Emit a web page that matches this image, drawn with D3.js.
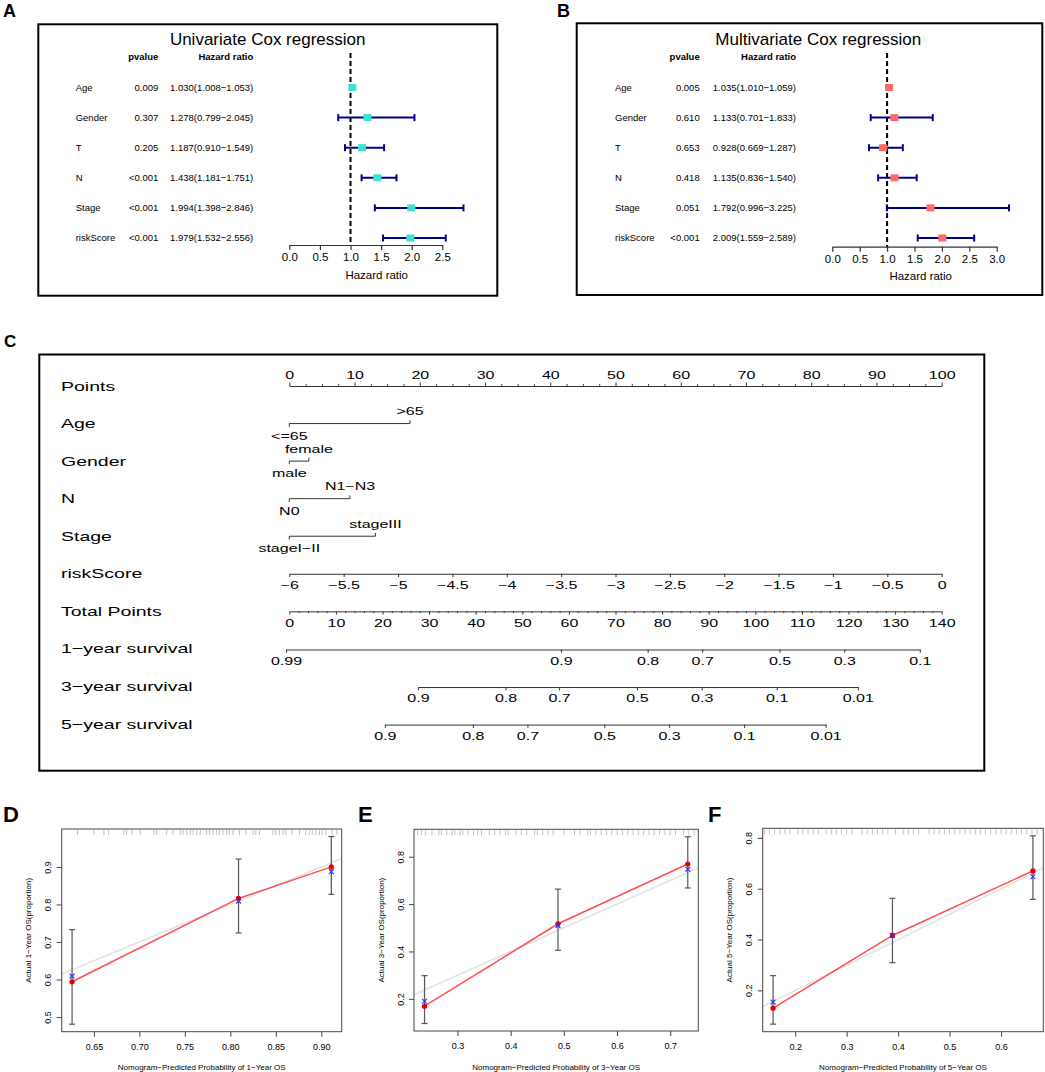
<!DOCTYPE html>
<html><head><meta charset="utf-8">
<script src="https://cdn.jsdelivr.net/npm/d3@7"></script>
<style>
body{margin:0;background:#fff}
svg{display:block}
text{font-family:"Liberation Sans",Arial,Helvetica,sans-serif;fill:#000}
</style>
</head><body>
<svg id="chart" width="1045" height="1072"></svg>
<script>
// ---------------- DATA ----------------
const vars = ["Age","Gender","T","N","Stage","riskScore"];
const uniP = ["0.009","0.307","0.205","<0.001","<0.001","<0.001"];
const uniHR = [1.030,1.278,1.187,1.438,1.994,1.979];
const uniLow = [1.008,0.799,0.910,1.181,1.398,1.532];
const uniHigh = [1.053,2.045,1.549,1.751,2.846,2.556];
const multiP = ["0.005","0.610","0.653","0.418","0.051","<0.001"];
const multiHR = [1.035,1.133,0.928,1.135,1.792,2.009];
const multiLow = [1.010,0.701,0.669,0.836,0.996,1.559];
const multiHigh = [1.059,1.833,1.287,1.540,3.225,2.589];
const uniTicks = [0,0.5,1,1.5,2,2.5];
const multiTicks = [0,0.5,1,1.5,2,2.5,3];

const nomoRows = ["Points","Age","Gender","N","Stage","riskScore","Total Points","1−year survival","3−year survival","5−year survival"];
const catRows = ["Age","Gender","N","Stage"];
const catLow = ["<=65","male","N0","stageI−II"];
const catHigh = [">65","female","N1−N3","stageIII"];
const catPoints = [18.5,3.0,9.3,13.2];
const riskTicks = [-6,-5.5,-5,-4.5,-4,-3.5,-3,-2.5,-2,-1.5,-1,-0.5,0];
const surv1Labels = ["0.99","0.9","0.8","0.7","0.5","0.3","0.1"];
const surv1Points = [-0.7,58.3,76.9,88.6,105.2,119.1,135.3];
const surv3Labels = ["0.9","0.8","0.7","0.5","0.3","0.1","0.01"];
const surv3Points = [27.6,46.4,57.9,74.6,88.5,104.6,122.0];
const surv5Labels = ["0.9","0.8","0.7","0.5","0.3","0.1","0.01"];
const surv5Points = [20.5,39.4,51.1,67.6,81.5,97.6,115.1];

const cal1Pred = [0.626,0.809,0.911];
const cal1Obs = [0.594,0.816,0.900];
const cal1Corr = [0.609,0.809,0.887];
const cal1Low = [0.481,0.724,0.827];
const cal1High = [0.733,0.921,0.981];
const cal1XTicks = [0.65,0.70,0.75,0.80,0.85,0.90];
const cal1YTicks = [0.5,0.6,0.7,0.8,0.9];
const cal1Rug = [0.632,0.650,0.661,0.666,0.683,0.686,0.692,0.701,0.716,0.719,0.730,0.737,0.745,0.748,0.752,0.756,0.759,0.763,0.767,0.774,0.777,0.781,0.785,0.788,0.792,0.796,0.799,0.803,0.810,0.817,0.825,0.828,0.832,0.847,0.850,0.854,0.858,0.861,0.868,0.876,0.883,0.887,0.890,0.894,0.898,0.901,0.905,0.912,0.917];

const cal3Pred = [0.238,0.489,0.733];
const cal3Obs = [0.169,0.517,0.769];
const cal3Corr = [0.190,0.509,0.747];
const cal3Low = [0.096,0.405,0.668];
const cal3High = [0.298,0.663,0.884];
const cal3XTicks = [0.3,0.4,0.5,0.6,0.7];
const cal3YTicks = [0.2,0.4,0.6,0.8];
const cal3Rug = [0.225,0.232,0.240,0.252,0.265,0.270,0.280,0.290,0.295,0.305,0.310,0.320,0.330,0.338,0.345,0.360,0.370,0.380,0.390,0.395,0.410,0.420,0.430,0.445,0.450,0.460,0.470,0.480,0.500,0.520,0.530,0.545,0.550,0.560,0.570,0.580,0.590,0.600,0.610,0.620,0.630,0.640,0.650,0.660,0.670,0.680,0.690,0.700,0.710,0.725,0.735,0.745];

const cal5Pred = [0.157,0.389,0.662];
const cal5Obs = [0.130,0.416,0.670];
const cal5Corr = [0.154,0.416,0.647];
const cal5Low = [0.067,0.309,0.558];
const cal5High = [0.258,0.562,0.808];
const cal5XTicks = [0.2,0.3,0.4,0.5,0.6];
const cal5YTicks = [0.2,0.4,0.6,0.8];
const cal5Rug = [0.140,0.150,0.160,0.170,0.180,0.190,0.205,0.215,0.225,0.235,0.245,0.260,0.270,0.280,0.290,0.300,0.310,0.330,0.340,0.350,0.360,0.370,0.380,0.395,0.410,0.420,0.430,0.440,0.460,0.470,0.480,0.490,0.500,0.510,0.520,0.530,0.540,0.550,0.560,0.570,0.580,0.590,0.600,0.610,0.620,0.630,0.640,0.650,0.660,0.670];

// ---------------- DRAW ----------------
const svg = d3.select("#chart");
const MINUS = "−";

function panelLabel(t, x, y, size) {
  svg.append("text").attr("x", x).attr("y", y).attr("font-size", size)
    .attr("font-weight", "bold").text(t);
}
panelLabel("A", 3, 17, 18);
panelLabel("B", 557, 17, 18);
panelLabel("C", 4, 347, 17);
panelLabel("D", 3, 822, 22);
panelLabel("E", 358, 822, 22);
panelLabel("F", 708, 822, 22);

// ---- Forest plots ----
function forest(cfg) {
  const g = svg.append("g");
  const [bx0, by0, bx1, by1] = cfg.box;
  g.append("rect").attr("x", bx0).attr("y", by0).attr("width", bx1 - bx0).attr("height", by1 - by0)
    .attr("fill", "none").attr("stroke", "#000").attr("stroke-width", 2);
  g.append("text").attr("x", cfg.titleX).attr("y", 45).attr("text-anchor", "middle")
    .attr("font-size", 17).text(cfg.title);
  g.append("text").attr("x", cfg.pX).attr("y", 60).attr("text-anchor", "end")
    .attr("font-size", 9.5).attr("font-weight", "bold").text("pvalue");
  g.append("text").attr("x", cfg.hrX).attr("y", 60).attr("text-anchor", "end")
    .attr("font-size", 9.5).attr("font-weight", "bold").text("Hazard ratio");

  const y = d3.scalePoint().domain(vars).range([87.5, 238]);
  const x = d3.scaleLinear().domain([0, cfg.max]).range([cfg.x0, cfg.x1]);

  vars.forEach((v, i) => {
    const yy = y(v);
    g.append("text").attr("x", cfg.labX).attr("y", yy + 3.4).attr("font-size", 9.5).text(v);
    g.append("text").attr("x", cfg.pX).attr("y", yy + 3.4).attr("font-size", 9.5)
      .attr("text-anchor", "end").text(cfg.p[i]);
    g.append("text").attr("x", cfg.hrX).attr("y", yy + 3.4).attr("font-size", 9.5)
      .attr("text-anchor", "end")
      .text(cfg.hr[i].toFixed(3) + "(" + cfg.low[i].toFixed(3) + MINUS + cfg.high[i].toFixed(3) + ")");
  });

  // axis
  const ax = g.append("g").attr("transform", `translate(0,${cfg.axisY})`)
    .call(d3.axisBottom(x).tickValues(cfg.ticks).tickFormat(d3.format(".1f")).tickSize(5).tickSizeOuter(0));
  ax.selectAll("path,line").attr("stroke", "#333").attr("stroke-width", 1.2);
  ax.selectAll("text").attr("font-size", 11.5).attr("font-family", '"Liberation Sans",Arial,sans-serif').attr("fill", "#000");
  g.append("text").attr("x", cfg.axTitleX).attr("y", cfg.axisY + 33.5).attr("text-anchor", "middle")
    .attr("font-size", 11.5).text("Hazard ratio");

  // reference line
  g.append("line").attr("x1", x(1)).attr("x2", x(1)).attr("y1", 53).attr("y2", cfg.axisY)
    .attr("stroke", "#000").attr("stroke-width", 2).attr("stroke-dasharray", "5,3");

  // CIs
  vars.forEach((v, i) => {
    const yy = y(v);
    g.append("line").attr("x1", x(cfg.low[i])).attr("x2", x(cfg.high[i])).attr("y1", yy).attr("y2", yy)
      .attr("stroke", "#00008B").attr("stroke-width", 2);
    [cfg.low[i], cfg.high[i]].forEach(e => {
      g.append("line").attr("x1", x(e)).attr("x2", x(e)).attr("y1", yy - 3.5).attr("y2", yy + 3.5)
        .attr("stroke", "#00008B").attr("stroke-width", 2);
    });
    g.append("rect").attr("x", x(cfg.hr[i]) - 4).attr("y", yy - 3.5).attr("width", 8).attr("height", 7)
      .attr("fill", cfg.color);
  });
}

forest({box:[38.3,24.3,497.3,295.7], title:"Univariate Cox regression", titleX:267.7,
  labX:75.7, pX:158.3, hrX:253.3, x0:289.3, x1:442.3, max:2.5, ticks:uniTicks, axisY:245,
  axTitleX:376.7, color:"#40E0D0", p:uniP, hr:uniHR, low:uniLow, high:uniHigh});
forest({box:[576.7,23.3,1042.3,295], title:"Multivariate Cox regression", titleX:818.3,
  labX:615, pX:699.7, hrX:796, x0:832.3, x1:996.7, max:3, ticks:multiTicks, axisY:246.7,
  axTitleX:920.7, color:"#FF6A6A", p:multiP, hr:multiHR, low:multiLow, high:multiHigh});

// ---- Nomogram ----
const nomo = svg.append("g");
nomo.append("rect").attr("x", 39.3).attr("y", 354.5).attr("width", 945).attr("height", 416.2)
  .attr("fill", "none").attr("stroke", "#000").attr("stroke-width", 2);
const rowY = d3.scalePoint().domain(nomoRows).range([386, 724]);
const LSX = 1.5, TSX = 1.6;
nomoRows.forEach(r => {
  nomo.append("text").attr("transform", `translate(61,${rowY(r) + 4.6}) scale(${LSX},1)`)
    .attr("font-size", 13).text(r);
});
const X0 = 289.3, X1 = 941.7;
const pts = d3.scaleLinear().domain([0, 100]).range([X0, X1]);
const risk = d3.scaleLinear().domain([-6, 0]).range([X0, X1]);
const tot = d3.scaleLinear().domain([0, 140]).range([X0, X1]);

function styleAxis(sel, labelY) {
  sel.selectAll("path,line").attr("stroke", "#333").attr("stroke-width", 1);
  sel.selectAll("text").attr("font-size", 10).attr("font-family", '"Liberation Sans",Arial,sans-serif')
    .attr("fill", "#000").attr("y", labelY).attr("dy", null)
    .attr("transform", `scale(${TSX},1)`);
}
function minorAxis(axisFn, scale, values, y, size) {
  const m = nomo.append("g").attr("transform", `translate(0,${y})`)
    .call(axisFn(scale).tickValues(values).tickFormat("").tickSize(size).tickSizeOuter(0));
  m.select(".domain").remove();
  m.selectAll("line").attr("stroke", "#333").attr("stroke-width", 1);
}

// Points
const yP = rowY("Points");
const pAx = nomo.append("g").attr("transform", `translate(0,${yP})`)
  .call(d3.axisTop(pts).tickValues(d3.range(0, 101, 10)).tickSize(3.5).tickSizeOuter(0));
styleAxis(pAx, -7.4);
minorAxis(d3.axisTop, pts, d3.range(0, 100.1, 2.5).filter(v => v % 10 !== 0), yP, 1.8);

// categorical rows
catRows.forEach((r, i) => {
  const yy = rowY(r);
  const xa = pts(0), xb = pts(catPoints[i]);
  nomo.append("line").attr("x1", xa).attr("x2", xb).attr("y1", yy).attr("y2", yy)
    .attr("stroke", "#333").attr("stroke-width", 1);
  nomo.append("line").attr("x1", xa).attr("x2", xa).attr("y1", yy).attr("y2", yy + 3.3)
    .attr("stroke", "#333").attr("stroke-width", 1);
  nomo.append("line").attr("x1", xb).attr("x2", xb).attr("y1", yy).attr("y2", yy - 3.3)
    .attr("stroke", "#333").attr("stroke-width", 1);
  nomo.append("text").attr("transform", `translate(${xb},${yy - 8.4}) scale(${TSX},1)`)
    .attr("text-anchor", "middle").attr("font-size", 10).text(catHigh[i]);
  nomo.append("text").attr("transform", `translate(${xa},${yy + 16}) scale(${TSX},1)`)
    .attr("text-anchor", "middle").attr("font-size", 10).text(catLow[i]);
});

// riskScore
const yR = rowY("riskScore");
const rAx = nomo.append("g").attr("transform", `translate(0,${yR})`)
  .call(d3.axisBottom(risk).tickValues(riskTicks).tickFormat(d3.format("~g")).tickSize(3.3).tickSizeOuter(0));
styleAxis(rAx, 15.3);

// Total points
const yT = rowY("Total Points");
const tAx = nomo.append("g").attr("transform", `translate(0,${yT})`)
  .call(d3.axisBottom(tot).tickValues(d3.range(0, 141, 10)).tickSize(3.3).tickSizeOuter(0));
styleAxis(tAx, 15.9);
minorAxis(d3.axisBottom, tot, d3.range(0, 141, 2).filter(v => v % 10 !== 0), yT, 1.8);

// survival
[[surv1Points, surv1Labels, "1−year survival"], [surv3Points, surv3Labels, "3−year survival"],
 [surv5Points, surv5Labels, "5−year survival"]].forEach(([pv, lb, r]) => {
  const s = d3.scaleLinear().domain([pv[0], pv[pv.length - 1]])
    .range([tot(pv[0]), tot(pv[pv.length - 1])]);
  const a = nomo.append("g").attr("transform", `translate(0,${rowY(r) + 0.6})`)
    .call(d3.axisBottom(s).tickValues(pv).tickFormat((d, i) => lb[i]).tickSize(3.3).tickSizeOuter(0));
  styleAxis(a, 15.3);
});

// ---- Calibration plots ----
function calib(cfg) {
  const g = svg.append("g");
  const [L, T, R, B] = cfg.box;
  const xmin = d3.min(cfg.pred), xmax = d3.max(cfg.pred);
  const xpad = (xmax - xmin) * 0.04;
  const ymin = d3.min(cfg.low), ymax = d3.max(cfg.high);
  const ypad = (ymax - ymin) * 0.04;
  const x = d3.scaleLinear().domain([xmin - xpad, xmax + xpad]).range([L, R]);
  const y = d3.scaleLinear().domain([ymin - ypad, ymax + ypad]).range([B, T]);
  const clipId = "clip" + cfg.id;
  g.append("clipPath").attr("id", clipId).append("rect").attr("x", L).attr("y", T)
    .attr("width", R - L).attr("height", B - T);

  // ideal line
  const lo = Math.min(x.domain()[0], y.domain()[0]), hi = Math.max(x.domain()[1], y.domain()[1]);
  g.append("line").attr("clip-path", `url(#${clipId})`)
    .attr("x1", x(lo)).attr("y1", y(lo)).attr("x2", x(hi)).attr("y2", y(hi))
    .attr("stroke", "#e2e2e2").attr("stroke-width", 1.6);

  // rug
  g.selectAll(null).data(cfg.rug).enter().append("line")
    .attr("x1", d => x(d)).attr("x2", d => x(d)).attr("y1", T + 1).attr("y2", T + 6)
    .attr("stroke", "#a5a5a5").attr("stroke-width", 0.7);

  // error bars
  cfg.pred.forEach((p, i) => {
    const xx = x(p);
    g.append("line").attr("x1", xx).attr("x2", xx).attr("y1", y(cfg.low[i])).attr("y2", y(cfg.high[i]))
      .attr("stroke", "#555").attr("stroke-width", 1.2);
    [cfg.low[i], cfg.high[i]].forEach(e => {
      g.append("line").attr("x1", xx - 3).attr("x2", xx + 3).attr("y1", y(e)).attr("y2", y(e))
        .attr("stroke", "#555").attr("stroke-width", 1.2);
    });
  });

  // red line + points
  const line = d3.line().x((d, i) => x(cfg.pred[i])).y(d => y(d));
  g.append("path").attr("d", line(cfg.obs)).attr("fill", "none")
    .attr("stroke", "#ff4d4d").attr("stroke-width", 1.5);
  cfg.obs.forEach((o, i) => {
    g.append("circle").attr("cx", x(cfg.pred[i])).attr("cy", y(o)).attr("r", 2.6).attr("fill", "#e00000");
  });
  // blue x
  cfg.corr.forEach((c, i) => {
    const xx = x(cfg.pred[i]), yy = y(c), s = 2.4;
    g.append("path").attr("d", `M${xx - s},${yy - s}L${xx + s},${yy + s}M${xx - s},${yy + s}L${xx + s},${yy - s}`)
      .attr("stroke", "#3030ff").attr("stroke-width", 1.2).attr("fill", "none");
  });

  // box
  g.append("rect").attr("x", L).attr("y", T).attr("width", R - L).attr("height", B - T)
    .attr("fill", "none").attr("stroke", "#444").attr("stroke-width", 1);

  // axes
  const xa = g.append("g").attr("transform", `translate(0,${B})`)
    .call(d3.axisBottom(x).tickValues(cfg.xticks).tickFormat(d3.format(cfg.xfmt)).tickSize(5).tickSizeOuter(0));
  xa.select(".domain").remove();
  xa.selectAll("line").attr("stroke", "#444");
  xa.selectAll("text").attr("font-size", 9).attr("font-family", '"Liberation Sans",Arial,sans-serif')
    .attr("fill", "#000").attr("y", 18).attr("dy", null);
  const ya = g.append("g").attr("transform", `translate(${L},0)`)
    .call(d3.axisLeft(y).tickValues(cfg.yticks).tickFormat(d3.format(".1f")).tickSize(5).tickSizeOuter(0));
  ya.select(".domain").remove();
  ya.selectAll("line").attr("stroke", "#444");
  ya.selectAll("text").attr("font-size", 9).attr("font-family", '"Liberation Sans",Arial,sans-serif')
    .attr("fill", "#000").attr("x", null).attr("dy", null).attr("text-anchor", "middle")
    .attr("transform", "translate(-10.5,0) rotate(-90)");

  g.append("text").attr("x", (L + R) / 2).attr("y", 1069.5).attr("text-anchor", "middle")
    .attr("font-size", 8).text(cfg.xtitle);
  g.append("text").attr("transform", `translate(${L - 30.5},${(T + B) / 2}) rotate(-90)`)
    .attr("text-anchor", "middle").attr("font-size", 8).text(cfg.ytitle);
}

calib({id:"D", box:[61.7,829,341.7,1031.7], pred:cal1Pred, obs:cal1Obs, corr:cal1Corr, low:cal1Low, high:cal1High,
  rug:cal1Rug, xticks:cal1XTicks, yticks:cal1YTicks, xfmt:".2f",
  xtitle:"Nomogram−Predicted Probability of 1−Year OS", ytitle:"Actual 1−Year OS(proportion)"});
calib({id:"E", box:[414,829.3,698.3,1031], pred:cal3Pred, obs:cal3Obs, corr:cal3Corr, low:cal3Low, high:cal3High,
  rug:cal3Rug, xticks:cal3XTicks, yticks:cal3YTicks, xfmt:".1f",
  xtitle:"Nomogram−Predicted Probability of 3−Year OS", ytitle:"Actual 3−Year OS(proportion)"});
calib({id:"F", box:[762.7,828.3,1043.3,1031.7], pred:cal5Pred, obs:cal5Obs, corr:cal5Corr, low:cal5Low, high:cal5High,
  rug:cal5Rug, xticks:cal5XTicks, yticks:cal5YTicks, xfmt:".1f",
  xtitle:"Nomogram−Predicted Probability of 5−Year OS", ytitle:"Actual 5−Year OS(proportion)"});
</script>
</body></html>
